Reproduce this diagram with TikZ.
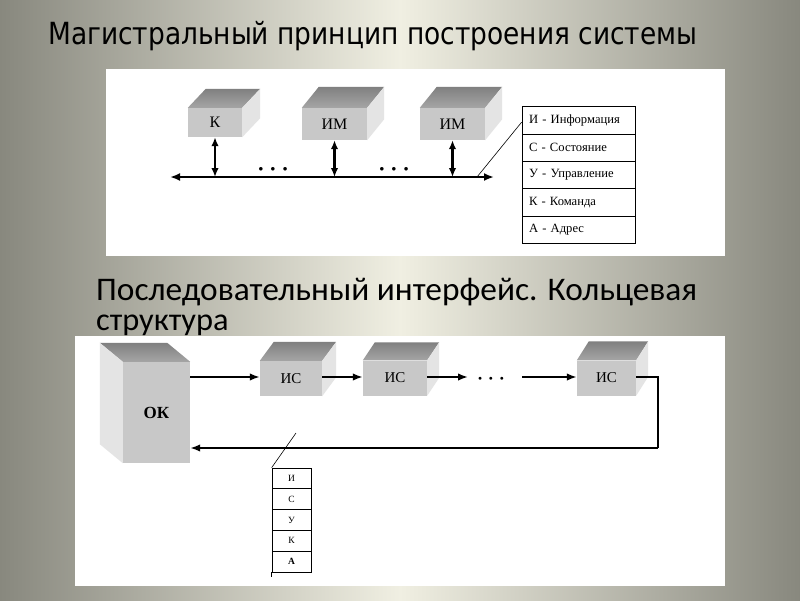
\documentclass[tikz,border=0pt]{standalone}
\usepackage{fontspec}
\setmainfont{Liberation Serif}
\newfontfamily\titlefA{DejaVu Sans}
\newfontfamily\titlefB{Carlito}
\usetikzlibrary{arrows.meta,calc}

\definecolor{bgdark}{RGB}{136,136,126}
\definecolor{bglight}{RGB}{240,239,226}
\definecolor{topback}{RGB}{128,128,128}
\definecolor{topfront}{RGB}{165,165,165}
\definecolor{frontf}{RGB}{200,200,200}
\definecolor{sidef}{RGB}{228,228,228}

\newsavebox\ttlboxA
\newsavebox\ttlboxB
\newdimen\ttlwA
\newdimen\ttlwB

% right-side cube: name, cx, cy, w, h, dx, dy, label
\newcommand\cubeR[8]{%
  \node[frontface, minimum width=#4pt, minimum height=#5pt] (#1) at (#2,#3) {#8};
  \shade[top color=topback, bottom color=topfront] (#1.north west) -- ++(#6,#7) -- ($(#1.north east)+(#6,#7)$) -- (#1.north east) -- cycle;
  \fill[sidef] (#1.north east) -- ++(#6,#7) -- ($(#1.south east)+(#6,#7)$) -- (#1.south east) -- cycle;
}
% left-side cube
\newcommand\cubeL[8]{%
  \node[frontface, minimum width=#4pt, minimum height=#5pt] (#1) at (#2,#3) {#8};
  \shade[top color=topback, bottom color=topfront] (#1.north west) -- ++(#6,#7) -- ($(#1.north east)+(#6,#7)$) -- (#1.north east) -- cycle;
  \fill[sidef] (#1.north west) -- ++(#6,#7) -- ($(#1.south west)+(#6,#7)$) -- (#1.south west) -- cycle;
}

\begin{document}
\sbox\ttlboxA{\titlefA\fontsize{30.5}{32}\selectfont Магистральный принцип построения системы}%
\sbox\ttlboxB{\titlefB\fontsize{33}{33}\selectfont Последовательный интерфейс. Кольцевая}%
\ttlwA=\wd\ttlboxA
\ttlwB=\wd\ttlboxB
\pgfmathsetmacro\sclA{649/\ttlwA}%
\pgfmathsetmacro\sclB{601/\ttlwB}%
\begin{tikzpicture}[x=1pt,y=-1pt,
  frontface/.style={fill=frontf, draw=none, inner sep=0pt, font=\fontsize{16}{16}\selectfont},
  busline/.style={line width=2.8pt, {Latex[length=10pt,width=8pt]}-{Latex[length=10pt,width=8pt]}},
  varrow/.style={line width=2.4pt, {Latex[length=9pt,width=7.5pt]}-{Latex[length=9pt,width=7.5pt]}},
  ringarrow/.style={line width=1.8pt, -{Latex[length=10pt,width=7.5pt]}},
  ringline/.style={line width=1.8pt},
  thin/.style={line width=0.6pt},
  trow/.style={draw, line width=0.8pt, minimum width=113pt, minimum height=27.4pt, inner xsep=7pt, text width=99pt, align=left, font=\fontsize{12.6}{13}\selectfont},
  srow/.style={draw, line width=0.7pt, minimum width=39pt, minimum height=20.8pt, inner sep=0pt, font=\fontsize{9.5}{9.5}\selectfont},
  dotsnode/.style={inner sep=0pt, font=\fontsize{9}{9}\selectfont}
]
\useasboundingbox (0,0) rectangle (800,600);
\shade[left color=bgdark, right color=bgdark, middle color=bglight] (0,0) rectangle (800,600);

% titles
\node[anchor=base west, inner sep=0pt] (title1) at (48,44) {\scalebox{\sclA}[1]{\usebox\ttlboxA}};
\node[anchor=base west, inner sep=0pt] (title2) at (96,300) {\scalebox{\sclB}[1]{\usebox\ttlboxB}};
\node[anchor=base west, inner sep=0pt] (title3) at (96,330) {\scalebox{\sclB}[1]{\titlefB\fontsize{32}{32}\selectfont структура}};

% panels
\fill[white] (106,69) rectangle (725,256);
\fill[white] (75,336) rectangle (725,586);

% ---------- top diagram ----------
\cubeR{K}{215}{122.5}{54}{29}{18}{-19}{К}
\cubeR{IM1}{334.5}{124}{65}{32}{17}{-21}{ИМ}
\cubeR{IM2}{452.5}{124}{65}{32}{17}{-21}{ИМ}

\coordinate (busL) at (170,177);
\coordinate (busR) at (494,177);
\draw[busline] (busL) -- (busR);

\draw[varrow] (K.south) -- (K.south |- busL);
\draw[varrow] (IM1.south) -- (IM1.south |- busL);
\draw[varrow] (IM2.south) -- (IM2.south |- busL);

\node[dotsnode] (dots1) at (273,169) {$\bullet\hspace{5.5pt}\bullet\hspace{5.5pt}\bullet$};
\node[dotsnode] (dots2) at (394,169) {$\bullet\hspace{5.5pt}\bullet\hspace{5.5pt}\bullet$};

\node[trow] (t1) at (578.5,120.2) {И - Информация};
\node[trow] (t2) at (578.5,147.6) {С - Состояние};
\node[trow] (t3) at (578.5,175.0) {У - Управление};
\node[trow] (t4) at (578.5,202.4) {К - Команда};
\node[trow] (t5) at (578.5,229.8) {А - Адрес};

\coordinate (tap1) at (477,177);
\draw[thin] (tap1) -- ($(t1.west)+(0,2)$);

% ---------- bottom diagram ----------
\cubeL{OK}{156.5}{412.5}{67}{101}{-23}{-19}{\bfseries\fontsize{17}{17}\selectfont ОК}
\cubeR{IS1}{291}{378.5}{62}{35}{14}{-19}{\fontsize{15}{15}\selectfont ИС}
\cubeR{IS2}{395}{378}{64}{35}{12}{-18}{\fontsize{15}{15}\selectfont ИС}
\cubeR{IS3}{606.5}{378}{59}{35}{12}{-19}{\fontsize{15}{15}\selectfont ИС}

\draw[ringarrow] (OK.east |- 0,377) -- (IS1.west |- 0,377);
\draw[ringarrow] (IS1.east |- 0,377) -- (IS2.west |- 0,377);
\coordinate (a3) at (468,377);
\coordinate (a4) at (522,377);
\draw[ringarrow] (IS2.east |- 0,377) -- (a3);
\node[dotsnode, font=\fontsize{7.5}{7.5}\selectfont] (dots3) at (491,379) {$\bullet\hspace{5pt}\bullet\hspace{5pt}\bullet$};
\draw[ringarrow] (a4) -- (IS3.west |- 0,377);
\coordinate (rc1) at (658,377);
\coordinate (rc2) at (658,448);
\draw[ringline] (IS3.east |- 0,377) -- (rc1) -- (rc2);
\draw[ringarrow] (rc2) -- (OK.east |- rc2);

\node[srow] (s1) at (291.5,478.4) {И};
\node[srow] (s2) at (291.5,499.2) {С};
\node[srow] (s3) at (291.5,520.0) {У};
\node[srow] (s4) at (291.5,540.8) {К};
\node[srow] (s5) at (291.5,561.6) {\bfseries А};
\draw[line width=1.4pt] (s5.south west) -- (s5.south east);
\draw[thin] (s5.south west) -- ++(0,5);

\coordinate (tap2) at (296,433);
\draw[thin] (s1.north west) -- (tap2);
\end{tikzpicture}
\end{document}
